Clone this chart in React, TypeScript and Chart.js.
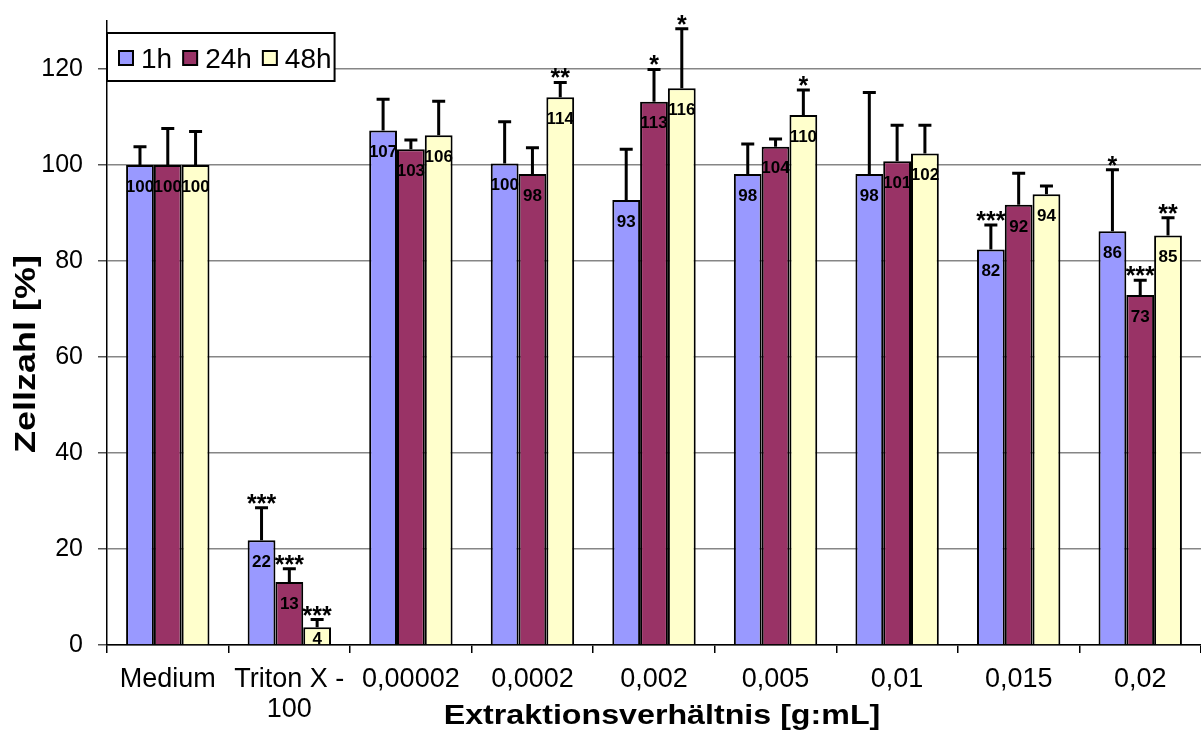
import { useEffect, useRef } from 'react';
import { Chart, registerables } from 'chart.js';

Chart.register(...registerables);

const FONT = '"Liberation Sans", Arial, Helvetica, sans-serif';

const categories: (string | string[])[] = [
  'Medium',
  ['Triton X -', '100'],
  '0,00002',
  '0,0002',
  '0,002',
  '0,005',
  '0,01',
  '0,015',
  '0,02',
];

const seriesNames = ['1h', '24h', '48h'];
const seriesColors = ['#9999FF', '#993366', '#FFFFCC'];

const values1h = [100, 21.8, 107.2, 100.3, 92.7, 98.1, 98.1, 82.4, 86.2];
const values24h = [100, 13.1, 103.3, 98.1, 113.2, 103.8, 100.8, 91.7, 72.9];
const values48h = [100, 3.7, 106.2, 114.1, 116.0, 110.4, 102.4, 93.9, 85.3];

const sd1h = [3.8, 6.8, 6.5, 8.7, 10.6, 6.3, 17.0, 5.1, 12.8];
const sd24h = [7.6, 2.8, 1.9, 5.5, 6.7, 1.6, 7.5, 6.6, 3.1];
const sd48h = [7.0, 1.6, 7.1, 3.1, 12.4, 5.2, 5.9, 1.7, 3.7];

const sig1h = ['', '***', '', '', '', '', '', '***', '*'];
const sig24h = ['', '***', '', '', '*', '', '', '', '***'];
const sig48h = ['', '***', '', '**', '*', '*', '', '', '**'];

const yTicksMax = 120;
const yMax = 130;
const yStep = 20;

const yTitle = 'Zellzahl [%]';
const xTitle = 'Extraktionsverhältnis [g:mL]';

const allValues = [values1h, values24h, values48h];
const allSd = [sd1h, sd24h, sd48h];
const allSig = [sig1h, sig24h, sig48h];

const overlayPlugin = {
  id: 'overlay',
  afterDatasetsDraw(chart: any) {
    const ctx = chart.ctx as CanvasRenderingContext2D;
    const y = chart.scales.y;
    const base = y.getPixelForValue(0);
    chart.data.datasets.forEach((ds: any, di: number) => {
      const meta = chart.getDatasetMeta(di);
      meta.data.forEach((bar: any, i: number) => {
        const v = ds.data[i] as number;
        const top = y.getPixelForValue(v);
        const errTop = y.getPixelForValue(v + allSd[di][i]);
        const x = bar.x;
        // error bar
        ctx.save();
        ctx.strokeStyle = '#000';
        ctx.lineWidth = 3;
        ctx.beginPath();
        ctx.moveTo(x, top);
        ctx.lineTo(x, errTop);
        ctx.moveTo(x - 6.5, errTop);
        ctx.lineTo(x + 6.5, errTop);
        ctx.stroke();
        ctx.restore();
        // value label
        ctx.save();
        ctx.fillStyle = '#000';
        ctx.font = `bold 17px ${FONT}`;
        ctx.textAlign = 'center';
        ctx.textBaseline = 'middle';
        const ly = Math.min(top + 22, base - 6);
        ctx.fillText(String(Math.round(v)), x, ly);
        ctx.restore();
        // significance
        const s = allSig[di][i];
        if (s) {
          ctx.save();
          ctx.fillStyle = '#000';
          ctx.font = `bold 25px ${FONT}`;
          ctx.textAlign = 'center';
          ctx.textBaseline = 'alphabetic';
          ctx.fillText(s, x, errTop + 4);
          ctx.restore();
        }
      });
    });
  },
  afterDraw(chart: any) {
    const ctx = chart.ctx as CanvasRenderingContext2D;
    const area = chart.chartArea;
    // legend
    ctx.save();
    const lx = area.left;
    const ly = area.top + 12;
    const lh = 48;
    ctx.font = `28px ${FONT}`;
    let cx = lx + 12;
    const items: { mx: number; tx: number; name: string; color: string }[] = [];
    chart.data.datasets.forEach((ds: any) => {
      const mx = cx;
      const tx = mx + 15 + 7;
      const w = ctx.measureText(ds.label).width;
      items.push({ mx, tx, name: ds.label, color: ds.backgroundColor });
      cx = tx + w + 11;
    });
    const lw = cx - lx - 8;
    ctx.fillStyle = '#fff';
    ctx.fillRect(lx, ly, lw, lh);
    ctx.strokeStyle = '#000';
    ctx.lineWidth = 2;
    ctx.strokeRect(lx, ly, lw, lh);
    items.forEach((it) => {
      ctx.fillStyle = it.color;
      ctx.fillRect(it.mx, ly + 18, 14, 14);
      ctx.lineWidth = 2;
      ctx.strokeStyle = '#000';
      ctx.strokeRect(it.mx, ly + 18, 14, 14);
      ctx.fillStyle = '#000';
      ctx.textBaseline = 'alphabetic';
      ctx.textAlign = 'left';
      ctx.fillText(it.name, it.tx, ly + 35);
    });
    ctx.restore();

    // y title
    ctx.save();
    ctx.fillStyle = '#000';
    ctx.font = `bold 30px ${FONT}`;
    ctx.textAlign = 'center';
    ctx.textBaseline = 'alphabetic';
    ctx.translate(35, 354);
    ctx.rotate(-Math.PI / 2);
    ctx.scale(1.2, 1);
    ctx.fillText(yTitle, 0, 0);
    ctx.restore();

    // x title
    ctx.save();
    ctx.fillStyle = '#000';
    ctx.font = `bold 28px ${FONT}`;
    ctx.textAlign = 'center';
    ctx.textBaseline = 'alphabetic';
    ctx.translate((area.left + area.right) / 2 + 8, 724);
    ctx.scale(1.15, 1);
    ctx.fillText(xTitle, 0, 0);
    ctx.restore();
  },
};

export default function App() {
  const ref = useRef<HTMLCanvasElement>(null);
  useEffect(() => {
    document.body.style.margin = '0';
    const chart = new Chart(ref.current as HTMLCanvasElement, {
      type: 'bar',
      data: {
        labels: categories as any,
        datasets: allValues.map((vals, i) => ({
          label: seriesNames[i],
          data: vals,
          backgroundColor: seriesColors[i],
          borderColor: '#000',
          borderWidth: 2,
          categoryPercentage: 0.686,
          barPercentage: 1,
        })),
      },
      options: {
        animation: false,
        responsive: true,
        maintainAspectRatio: false,
        layout: { padding: { top: 21, right: 0, left: 0, bottom: 0 } },
        plugins: { legend: { display: false }, tooltip: { enabled: false } },
        scales: {
          x: {
            offset: true,
            grid: {
              offset: true,
              drawOnChartArea: false,
              drawTicks: true,
              tickLength: 8,
              color: '#000',
              lineWidth: 1.5,
            },
            border: { display: true, color: '#000', width: 1.5 },
            ticks: {
              font: { family: FONT, size: 27, lineHeight: 1.12 },
              color: '#000',
              padding: 11,
              maxRotation: 0,
              autoSkip: false,
            },
            afterFit: (s: any) => {
              s.height = 92;
              s.paddingLeft = 0;
              s.paddingRight = 0;
            },
          },
          y: {
            min: 0,
            max: yMax,
            ticks: {
              stepSize: yStep,
              font: { family: FONT, size: 25 },
              color: '#000',
              padding: 15,
            },
            grid: { color: '#868686', lineWidth: 1.5, tickLength: 9, tickColor: '#555' },
            border: { display: true, color: '#000', width: 1.5 },
            afterBuildTicks: (s: any) => {
              s.ticks = s.ticks.filter((t: any) => t.value <= yTicksMax);
            },
            afterFit: (s: any) => {
              s.width = 107;
              s.paddingTop = 0;
              s.paddingBottom = 0;
            },
          },
        },
      },
      plugins: [overlayPlugin],
    } as any);
    return () => chart.destroy();
  }, []);
  return (
    <div style={{ position: 'fixed', left: 0, top: 0, width: 1201, height: 737, background: '#fff' }}>
      <canvas ref={ref} />
    </div>
  );
}
